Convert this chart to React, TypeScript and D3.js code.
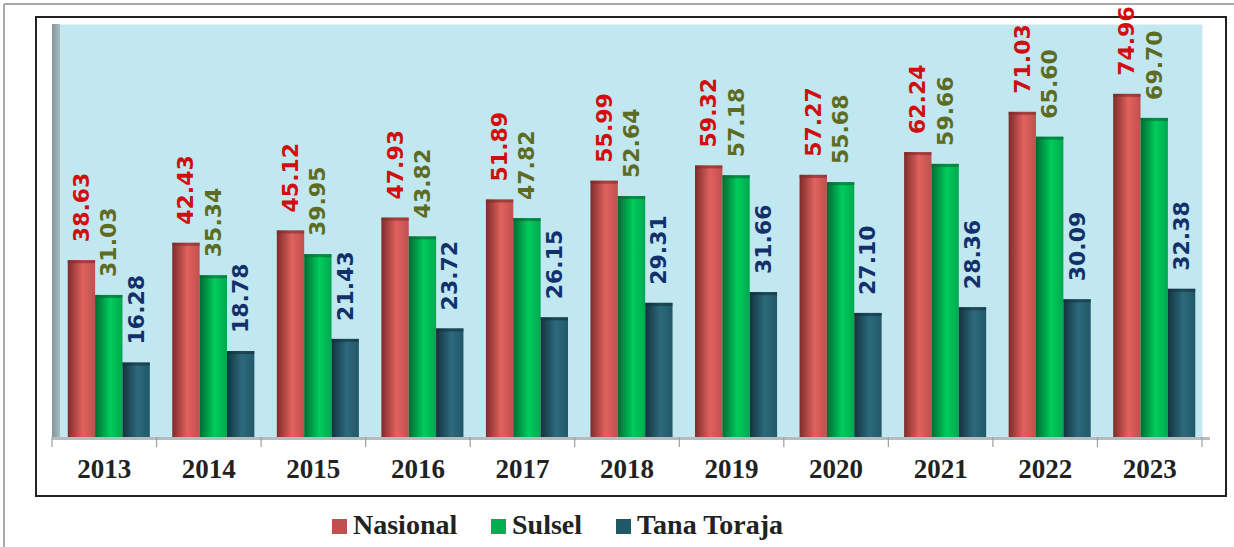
import React, { useEffect, useRef } from "react";
import * as d3 from "d3";

const years = ["2013", "2014", "2015", "2016", "2017", "2018", "2019", "2020", "2021", "2022", "2023"];
const nasional = [38.63, 42.43, 45.12, 47.93, 51.89, 55.99, 59.32, 57.27, 62.24, 71.03, 74.96];
const sulsel = [31.03, 35.34, 39.95, 43.82, 47.82, 52.64, 57.18, 55.68, 59.66, 65.6, 69.7];
const tanaToraja = [16.28, 18.78, 21.43, 23.72, 26.15, 29.31, 31.66, 27.1, 28.36, 30.09, 32.38];
const seriesNames = ["Nasional", "Sulsel", "Tana Toraja"];

const barColors = [
  { dark: "#7e2c2a", mid: "#e0625e", base: "#c0504d" },
  { dark: "#006b33", mid: "#00cc5c", base: "#00a84f" },
  { dark: "#14323e", mid: "#2c6a7c", base: "#215868" },
];
const labelColors = ["#d10d0d", "#5e6b22", "#12306b"];
const legendColors = ["#c0504d", "#00b050", "#215868"];

function App() {
  const ref = useRef<SVGSVGElement>(null);

  useEffect(() => {
    const width = 1234;
    const height = 547;
    const plot = { left: 52, right: 1202, top: 25, bottom: 437 };
    const svg = d3.select(ref.current);
    svg.selectAll("*").remove();

    const defs = svg.append("defs");
    barColors.forEach((c, i) => {
      const g = defs.append("linearGradient").attr("id", "bar" + i).attr("x1", 0).attr("x2", 1).attr("y1", 0).attr("y2", 0);
      g.append("stop").attr("offset", "0%").attr("stop-color", c.dark);
      g.append("stop").attr("offset", "55%").attr("stop-color", c.mid);
      g.append("stop").attr("offset", "100%").attr("stop-color", c.base);
    });
    const wall = defs.append("linearGradient").attr("id", "wall").attr("x1", 0).attr("x2", 1);
    wall.append("stop").attr("offset", "0%").attr("stop-color", "#7f959b");
    wall.append("stop").attr("offset", "100%").attr("stop-color", "#a7bcc2");

    // outer frame lines
    svg.append("line").attr("x1", 4).attr("x2", width).attr("y1", 4).attr("y2", 4).attr("stroke", "#a8a8a8").attr("stroke-width", 2);
    svg.append("line").attr("x1", 4).attr("x2", 4).attr("y1", 4).attr("y2", height).attr("stroke", "#a8a8a8").attr("stroke-width", 2);
    svg.append("rect").attr("x", 36).attr("y", 17).attr("width", 1190).attr("height", 479)
      .attr("fill", "#fff").attr("stroke", "#222").attr("stroke-width", 2);

    // plot background
    svg.append("rect").attr("x", plot.left + 8).attr("y", plot.top).attr("width", plot.right - plot.left - 8)
      .attr("height", plot.bottom - plot.top).attr("fill", "#c1e7f0").attr("stroke", "#d6e4e8");
    svg.append("rect").attr("x", plot.left).attr("y", plot.top - 1).attr("width", 8)
      .attr("height", plot.bottom - plot.top + 1).attr("fill", "url(#wall)");

    const x0 = d3.scaleBand<string>().domain(years).range([plot.left, plot.right])
      .paddingInner(0.215).paddingOuter(0.1075);
    const x1 = d3.scaleBand<number>().domain([0, 1, 2]).range([0, x0.bandwidth()]);
    const y = d3.scaleLinear().domain([0, 90]).range([plot.bottom, plot.top]);
    const shift = 4.5;

    // floor + ticks
    svg.append("rect").attr("x", plot.left).attr("y", plot.bottom).attr("width", plot.right - plot.left + 8)
      .attr("height", 3).attr("fill", "#b4bcc0");
    const step = x0.step();
    const tickX = d3.range(years.length + 1).map(i => plot.left + i * step);
    svg.append("g").selectAll("line").data(tickX).enter().append("line")
      .attr("x1", d => d).attr("x2", d => d).attr("y1", plot.bottom).attr("y2", plot.bottom + 10)
      .attr("stroke", "#9aa0a4").attr("stroke-width", 1.2);

    const series = [nasional, sulsel, tanaToraja];
    const groups = svg.append("g").selectAll("g").data(years).enter().append("g")
      .attr("transform", d => `translate(${(x0(d) as number) + shift},0)`);

    series.forEach((vals, si) => {
      groups.append("rect")
        .attr("x", x1(si) as number)
        .attr("y", (d, i) => y(vals[i]))
        .attr("width", x1.bandwidth())
        .attr("height", (d, i) => y(0) - y(vals[i]))
        .attr("fill", `url(#bar${si})`);
      groups.append("rect")
        .attr("x", x1(si) as number)
        .attr("y", (d, i) => y(vals[i]))
        .attr("width", x1.bandwidth())
        .attr("height", 3)
        .attr("fill", barColors[si].dark)
        .attr("opacity", 0.6);
      groups.append("text")
        .attr("transform", (d, i) => `translate(${(x1(si) as number) + x1.bandwidth() / 2},${y(vals[i]) - 18}) rotate(-90)`)
        .attr("dominant-baseline", "central")
        .attr("text-anchor", "start")
        .attr("font-family", "DejaVu Sans")
        .attr("font-weight", "bold")
        .attr("font-size", 22)
        .attr("fill", labelColors[si])
        .text((d, i) => vals[i].toFixed(2));
    });

    // year labels
    svg.append("g").selectAll("text").data(years).enter().append("text")
      .attr("x", d => (x0(d) as number) - x0.step() * 0.1075 + step / 2)
      .attr("y", 478)
      .attr("text-anchor", "middle")
      .attr("font-family", "Liberation Serif")
      .attr("font-weight", "bold")
      .attr("font-size", 27)
      .attr("fill", "#222")
      .text(d => d);

    // legend
    const legendX = [332, 491, 616];
    const lg = svg.append("g").selectAll("g").data(seriesNames).enter().append("g")
      .attr("transform", (d, i) => `translate(${legendX[i]},519)`);
    lg.append("rect").attr("width", 15).attr("height", 15).attr("fill", (d, i) => legendColors[i]);
    lg.append("text").attr("x", 21).attr("y", 15)
      .attr("font-family", "Liberation Serif").attr("font-weight", "bold").attr("font-size", 28)
      .attr("fill", "#222").text(d => d);
  }, []);

  return (
    <svg ref={ref} width={1234} height={547} style={{ position: "absolute", left: 0, top: 0 }} />
  );
}

export default App;
